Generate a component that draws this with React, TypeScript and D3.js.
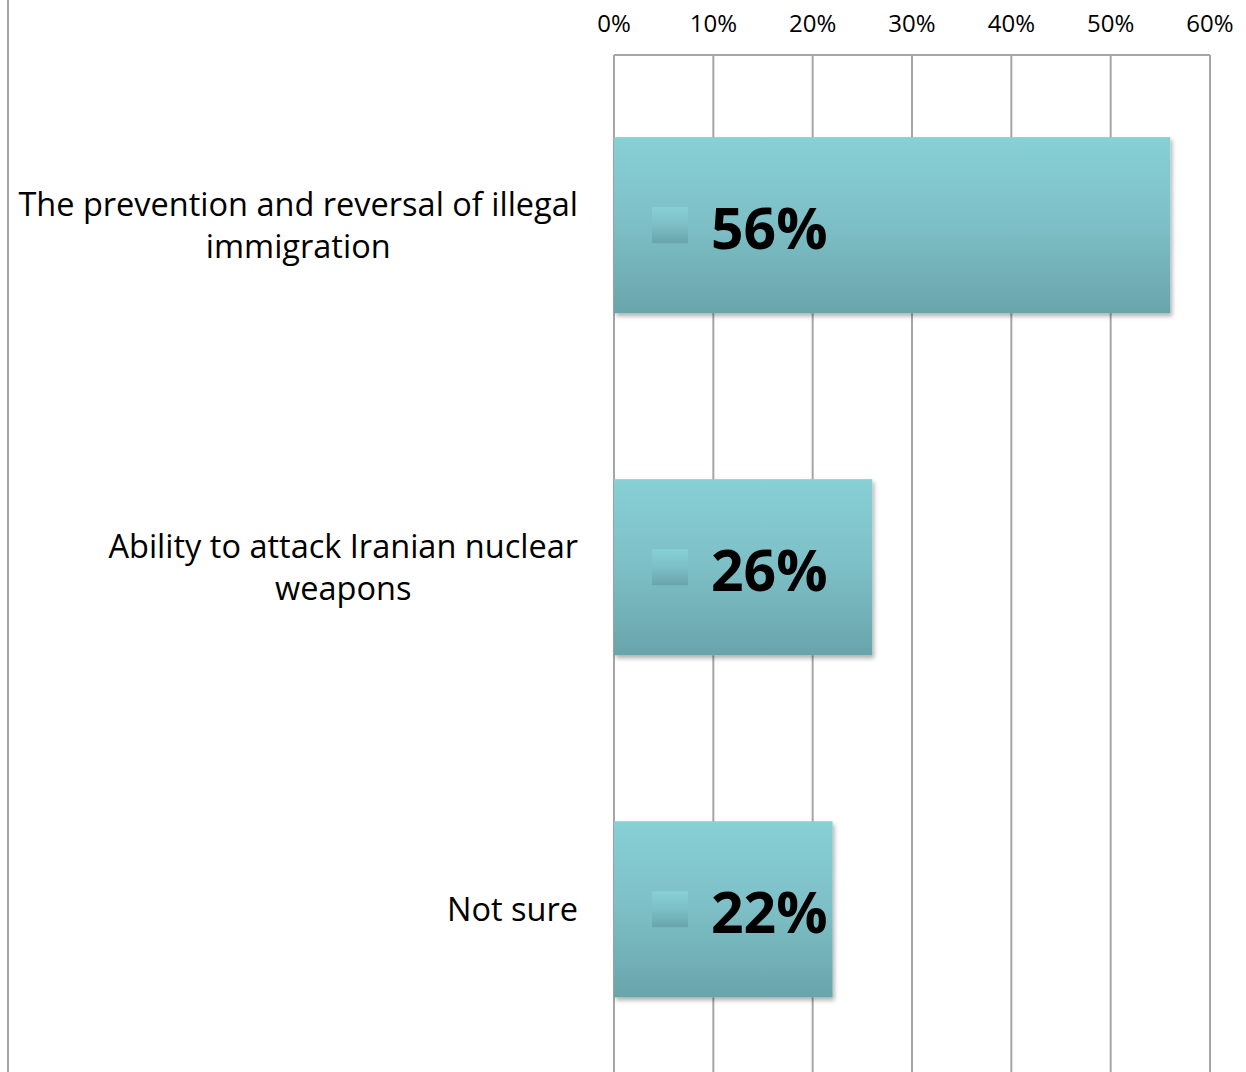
import React from 'react';
import * as d3 from 'd3';

const categories = [
  ['The prevention and reversal of illegal', 'immigration'],
  ['Ability to attack Iranian nuclear', 'weapons'],
  ['Not sure'],
];
const values = [56, 26, 22];
const tickValues = [0, 10, 20, 30, 40, 50, 60];

const W = 1246;
const H = 1072;
const FONT = "'Open Sans', 'Noto Sans', sans-serif";

const measure = (() => {
  const c = typeof document !== 'undefined' ? document.createElement('canvas') : null;
  const ctx = c ? c.getContext('2d') : null;
  return (txt: string, font: string) => {
    if (!ctx) return txt.length * 14;
    ctx.font = font;
    return ctx.measureText(txt).width;
  };
})();

export default function App() {
  const margin = { top: 55, left: 614, right: 36 };
  const x = d3.scaleLinear().domain([0, 60]).range([margin.left, W - margin.right]);
  const y = d3.scaleBand<number>()
    .domain(d3.range(values.length))
    .range([margin.top, margin.top + 341.5 * values.length])
    .paddingInner(0.485)
    .paddingOuter(0.24);

  const labelFontSize = 32.5;
  const labelFont = `${labelFontSize}px ${FONT}`;
  const labelRight = 578;
  const lineGap = 42;

  return (
    <svg
      width={W}
      height={H}
      style={{ position: 'absolute', left: 0, top: 0, background: '#fff' }}
      fontFamily={FONT}
    >
      <defs>
        <linearGradient id="barGrad" x1="0" y1="0" x2="0" y2="1">
          <stop offset="0%" stopColor="#87d0d6" />
          <stop offset="50%" stopColor="#7dbfc6" />
          <stop offset="100%" stopColor="#68a5ab" />
        </linearGradient>
        <filter id="shadow" x="-5%" y="-5%" width="115%" height="115%">
          <feDropShadow dx="2" dy="3" stdDeviation="2" floodColor="#000" floodOpacity="0.3" />
        </filter>
      </defs>

      {/* left frame line */}
      <line x1={8} x2={8} y1={0} y2={H} stroke="#a6a6a6" strokeWidth={2} />

      {/* gridlines */}
      {tickValues.map(t => (
        <line key={t} x1={x(t)} x2={x(t)} y1={margin.top} y2={H} stroke="#a6a6a6" strokeWidth={2} />
      ))}
      <line x1={x(0)} x2={x(60)} y1={margin.top} y2={margin.top} stroke="#a6a6a6" strokeWidth={2} />

      {/* tick labels */}
      {tickValues.map(t => (
        <text key={t} x={x(t)} y={32} textAnchor="middle" fontSize={24} fill="#000">
          {t}%
        </text>
      ))}

      {/* bars */}
      {values.map((v, i) => {
        const y0 = y(i) as number;
        const bh = y.bandwidth();
        const cy = y0 + bh / 2;
        return (
          <g key={i}>
            <rect
              x={x(0)}
              y={y0}
              width={x(v) - x(0)}
              height={bh}
              fill="url(#barGrad)"
              filter="url(#shadow)"
            />
            <rect x={x(0) + 38} y={cy - 18} width={36} height={36} fill="url(#barGrad)" />
            <text x={x(0) + 97} y={cy + 24} fontSize={57} fontWeight="bold" fill="#000">
              {v}%
            </text>
          </g>
        );
      })}

      {/* category labels */}
      {categories.map((lines, i) => {
        const cy = (y(i) as number) + y.bandwidth() / 2;
        const maxW = d3.max(lines, l => measure(l, labelFont)) || 0;
        const cx = labelRight - maxW / 2;
        const startY = cy - ((lines.length - 1) * lineGap) / 2 + 12;
        return (
          <text key={i} fontSize={labelFontSize} fill="#000" textAnchor="middle">
            {lines.map((l, j) => (
              <tspan key={j} x={cx} y={startY + j * lineGap}>{l}</tspan>
            ))}
          </text>
        );
      })}
    </svg>
  );
}
